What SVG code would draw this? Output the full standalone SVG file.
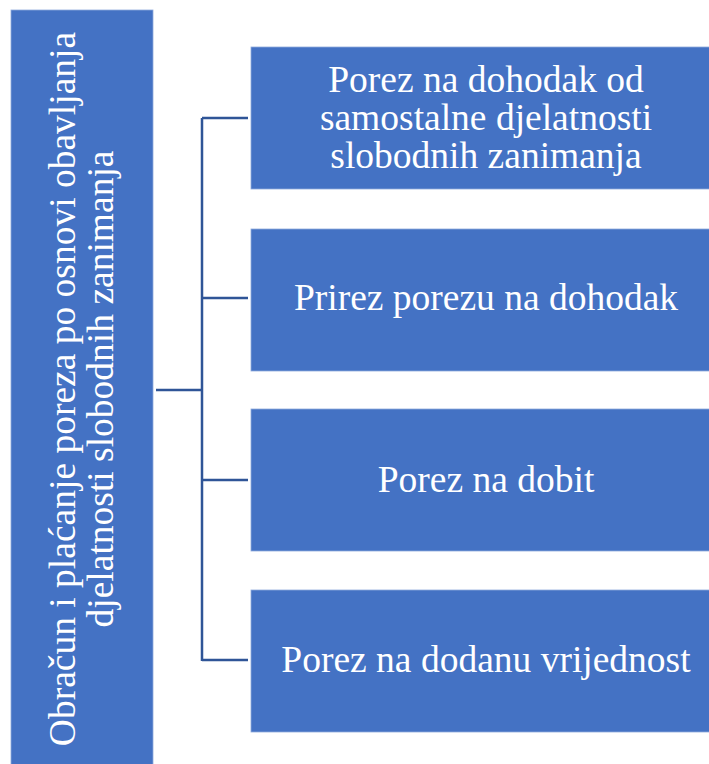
<svg xmlns="http://www.w3.org/2000/svg" width="709" height="764" viewBox="0 0 709 764">
<style>
.box{fill:#4472C4;stroke:#8FAADC;stroke-width:0.8}
.t{font-family:'Liberation Serif','Times New Roman','DejaVu Serif',serif;font-size:37.5px;fill:#FFFFFF;text-anchor:middle}
.c{fill:none;stroke:#2F5597;stroke-width:2.5}
</style>
<rect width="709" height="764" fill="#FFFFFF"/>
<g id="connectors">
<path class="c" d="M156 390 H202 M202 118 V661 M202 118 H248 M202 298 H248 M202 480 H248 M202 660 H248"/>
</g>
<g id="root">
<rect class="box" x="11" y="10" width="142" height="756"/>
<text class="t" transform="translate(75 389) rotate(-90)">Obračun i plaćanje poreza po osnovi obavljanja</text>
<text class="t" transform="translate(113 389) rotate(-90)">djelatnosti slobodnih zanimanja</text>
</g>
<g id="n1">
<rect class="box" x="251" y="47" width="460" height="142"/>
<text class="t" x="486" y="92">Porez na dohodak od</text>
<text class="t" x="486" y="130">samostalne djelatnosti</text>
<text class="t" x="486" y="168">slobodnih zanimanja</text>
</g>
<g id="n2">
<rect class="box" x="251" y="229" width="460" height="142"/>
<text class="t" x="486" y="310">Prirez porezu na dohodak</text>
</g>
<g id="n3">
<rect class="box" x="251" y="409" width="460" height="142"/>
<text class="t" x="486" y="492">Porez na dobit</text>
</g>
<g id="n4">
<rect class="box" x="251" y="590" width="460" height="142"/>
<text class="t" x="486" y="672">Porez na dodanu vrijednost</text>
</g>
</svg>
